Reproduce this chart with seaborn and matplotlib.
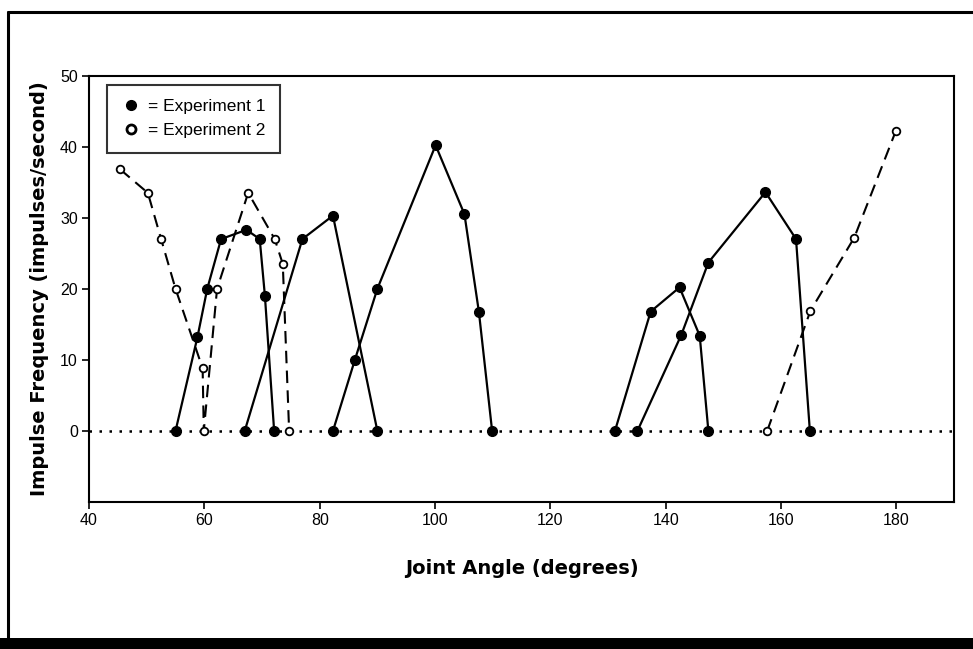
import matplotlib
matplotlib.use("Agg")
import matplotlib.pyplot as plt
from matplotlib.lines import Line2D
from matplotlib.patches import Rectangle
import seaborn as sns

# Experiment 1 (filled circles, solid lines) - one list pair per curve
exp1_a_x = [55, 58.8, 60.5, 62.9, 67.3, 69.6, 70.5, 72.1]
exp1_a_y = [0, 13.2, 20, 27, 28.3, 27, 19, 0]
exp1_b_x = [67, 77, 82.3, 90]
exp1_b_y = [0, 27, 30.3, 0]
exp1_c_x = [82.3, 86.1, 90, 100.1, 105.1, 107.6, 109.9]
exp1_c_y = [0, 10, 20, 40.2, 30.5, 16.8, 0]
exp1_d_x = [131.2, 137.4, 142.4, 145.9, 147.4]
exp1_d_y = [0, 16.8, 20.2, 13.4, 0]
exp1_e_x = [135.1, 142.7, 147.4, 157.3, 162.6, 165]
exp1_e_y = [0, 13.5, 23.7, 33.6, 27, 0]

# Experiment 2 (open circles, dashed lines)
exp2_a_x = [45.4, 50.2, 52.5, 55, 59.7, 59.9, 62.2, 67.6, 72.2, 73.6, 74.7]
exp2_a_y = [36.8, 33.5, 27, 20, 8.8, 0, 20, 33.5, 27, 23.5, 0]
exp2_b_x = [157.6, 165.1, 172.7, 179.9]
exp2_b_y = [0, 16.9, 27.2, 42.2]

x_ticks = [40, 60, 80, 100, 120, 140, 160, 180]
y_ticks = [0, 10, 20, 30, 40, 50]
legend_labels = ["= Experiment 1", "= Experiment 2"]

sns.set_style("ticks")
plt.rcParams["font.family"] = ["Liberation Sans", "DejaVu Sans"]

fig = plt.figure(figsize=(9.73, 6.49), dpi=100)
ax = fig.add_axes([0.0915, 0.2265, 0.889, 0.657])

# dotted zero line
ax.axhline(0, color="black", lw=1.8, ls=(0, (1, 3)), zorder=1)

solid_kw = dict(color="black", lw=1.6, marker="o", markersize=7,
                markerfacecolor="black", markeredgecolor="black",
                markeredgewidth=1, sort=False, zorder=3)
open_kw = dict(color="black", lw=1.5, marker="o", markersize=5.5,
               markerfacecolor="white", markeredgecolor="black",
               markeredgewidth=1.3, sort=False, zorder=3)

for xs, ys in [(exp1_a_x, exp1_a_y), (exp1_b_x, exp1_b_y),
               (exp1_c_x, exp1_c_y), (exp1_d_x, exp1_d_y),
               (exp1_e_x, exp1_e_y)]:
    sns.lineplot(x=xs, y=ys, ax=ax, **solid_kw)

for xs, ys in [(exp2_a_x, exp2_a_y), (exp2_b_x, exp2_b_y)]:
    sns.lineplot(x=xs, y=ys, ax=ax, **open_kw)
    ax.lines[-1].set_dashes((6, 3.5))

ax.set_xlim(40, 190)
ax.set_ylim(-10, 50)
ax.set_xticks(x_ticks)
ax.set_yticks(y_ticks)
ax.tick_params(axis="both", labelsize=11.5, length=5, width=1.2, color="black",
               labelcolor="black", pad=3)
for sp in ax.spines.values():
    sp.set_visible(True)
    sp.set_color("black")
    sp.set_linewidth(1.5)

ax.set_xlabel("Joint Angle (degrees)", fontsize=14, fontweight="bold",
              family="DejaVu Sans", color="black", labelpad=22)
ax.set_ylabel("Impulse Frequency (impulses/second)", fontsize=14,
              fontweight="bold", family="DejaVu Sans", color="black",
              labelpad=8)

handles = [
    Line2D([], [], ls="none", marker="o", markersize=7, color="black"),
    Line2D([], [], ls="none", marker="o", markersize=6.5, markerfacecolor="white",
           markeredgecolor="black", markeredgewidth=2),
]
leg = ax.legend(handles, legend_labels, loc="upper left",
                bbox_to_anchor=(0.021, 0.979), borderaxespad=0, fontsize=12.5,
                frameon=True, fancybox=False, handlelength=1,
                handletextpad=0.5, borderpad=0.85, labelspacing=0.5)
leg.get_frame().set_edgecolor("black")
leg.get_frame().set_linewidth(1.5)
for t in leg.get_texts():
    t.set_color("black")

# page border from the scanned figure
fig.add_artist(Line2D([8 / 973, 8 / 973], [11 / 649, 1 - 12 / 649],
                      color="black", lw=2.2, transform=fig.transFigure))
fig.add_artist(Line2D([8 / 973, 1], [1 - 12 / 649, 1 - 12 / 649],
                      color="black", lw=2.2, transform=fig.transFigure))
fig.add_artist(Rectangle((0, 0), 1, 11 / 649, facecolor="black",
                         edgecolor="none", transform=fig.transFigure))

fig.savefig("out.png", dpi=100)
